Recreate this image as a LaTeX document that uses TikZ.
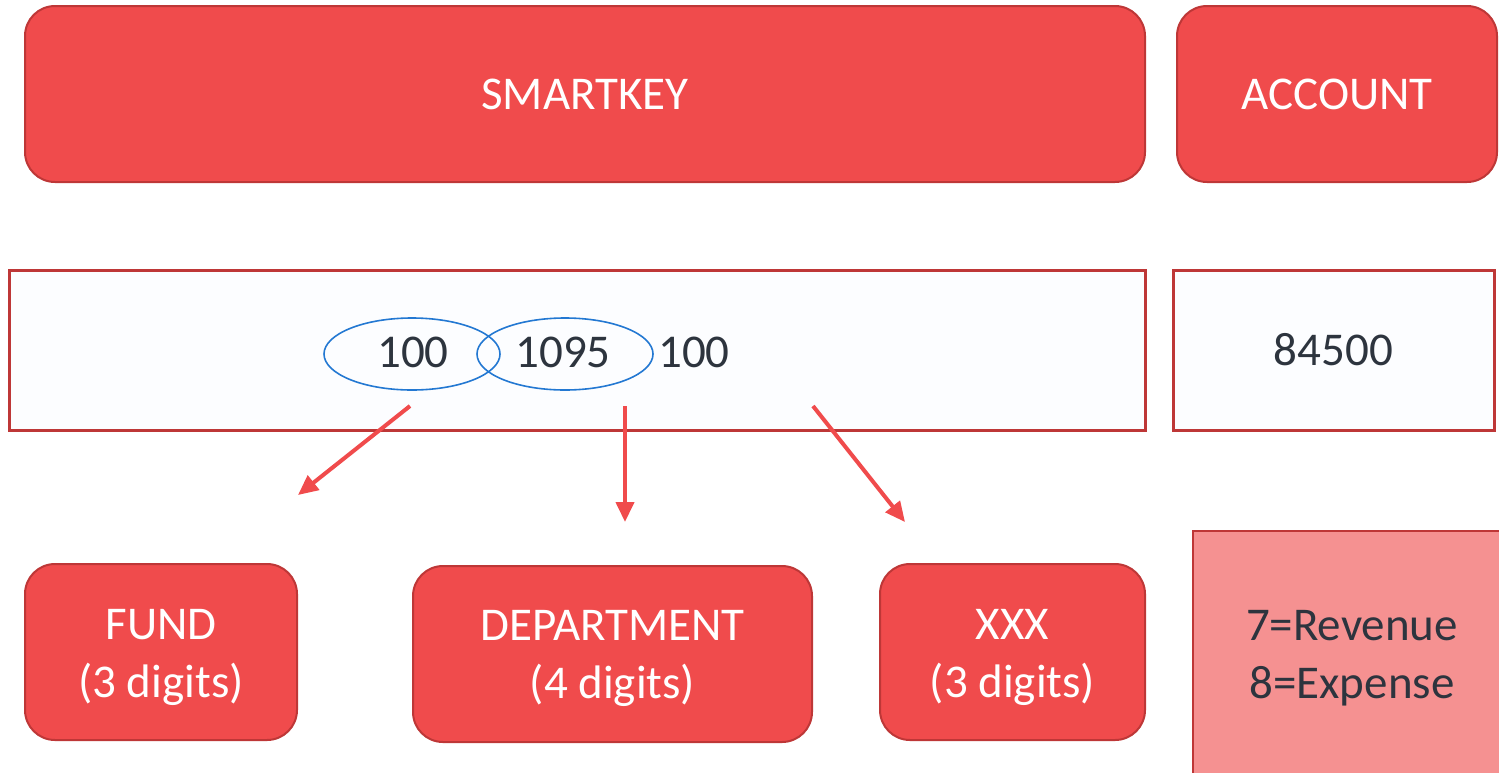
\documentclass[tikz,border=0pt]{standalone}
\usepackage{fontspec}
\setmainfont{Carlito}
\usetikzlibrary{arrows.meta,shapes.geometric}
\definecolor{boxred}{RGB}{240,75,76}
\definecolor{edgered}{RGB}{190,55,55}
\definecolor{lightred}{RGB}{245,145,145}
\definecolor{pale}{RGB}{252,253,255}
\definecolor{ink}{RGB}{45,52,62}
\definecolor{ovalblue}{RGB}{35,120,210}
\tikzset{
  redbox/.style={draw=edgered, line width=1pt, fill=boxred, rounded corners=15pt, text=white, align=center, inner sep=0pt, font=\fontsize{23.5}{29}\selectfont},
  boxtext/.style={text=white, align=center, inner sep=0pt, font=\fontsize{23.5}{29}\selectfont},
  valbox/.style={draw=edgered, line width=1.5pt, fill=pale, inner sep=0pt, text=ink, font=\fontsize{23.5}{29}\selectfont},
  num/.style={text=ink, inner sep=0pt, font=\fontsize{23.5}{29}\selectfont},
  oval/.style={draw=ovalblue, line width=0.8pt, ellipse, inner sep=0pt},
  pointer/.style={draw=boxred, line width=2pt, -{Triangle[length=10pt,width=9pt]}}
}
\begin{document}
\begin{tikzpicture}[x=0.5pt,y=-0.5pt]
\useasboundingbox (0,0) rectangle (1499,772);
% top boxes
\node[redbox, minimum width=560pt, minimum height=88pt] (smart) at (585,94) {SMARTKEY};
\node[redbox, minimum width=160pt, minimum height=88pt] (account) at (1337,94) {ACCOUNT};
% value boxes
\node[valbox, minimum width=568pt, minimum height=80pt] (keyval) at (577,350) {};
\node[valbox, minimum width=160.5pt, minimum height=80pt] (accval) at (1333.5,350) {84500};
% numbers and ovals
\node[oval, minimum width=88pt, minimum height=36pt] (o1) at (412,354) {};
\node[oval, minimum width=88pt, minimum height=36pt] (o2) at (565,354) {};
\node[num] (n1) at (413,352) {100};
\node[num] (n2) at (563,352) {1095};
\node[num] (n3) at (694,352) {100};
% arrows
\coordinate (s1) at (410,406);
\coordinate (e1) at (298,495);
\coordinate (s2) at (625,406);
\coordinate (e2) at (625,522);
\coordinate (s3) at (813,406);
\coordinate (e3) at (905,522);
\draw[pointer] (s1) -- (e1);
\draw[pointer] (s2) -- (e2);
\draw[pointer] (s3) -- (e3);
% bottom boxes
\node[redbox, minimum width=136pt, minimum height=88pt] (fund) at (161,652) {};
\node[boxtext] (fundt) at (161,657) {FUND\\(3 digits)};
\node[redbox, minimum width=199.5pt, minimum height=88pt] (dept) at (612.5,654) {};
\node[boxtext] (deptt) at (612.5,658) {DEPARTMENT\\(4 digits)};
\node[redbox, minimum width=132.5pt, minimum height=88pt] (xxx) at (1012.5,652) {};
\node[boxtext] (xxxt) at (1012.5,657) {XXX\\(3 digits)};
% legend box
\path[fill=lightred] (1193,531) rectangle (1500,773);
\draw[edgered, line width=1pt] (1193,773) -- (1193,531) -- (1500,531);
\node[num, align=center] (legend) at (1352,658) {7=Revenue\\8=Expense};
\end{tikzpicture}
\end{document}
